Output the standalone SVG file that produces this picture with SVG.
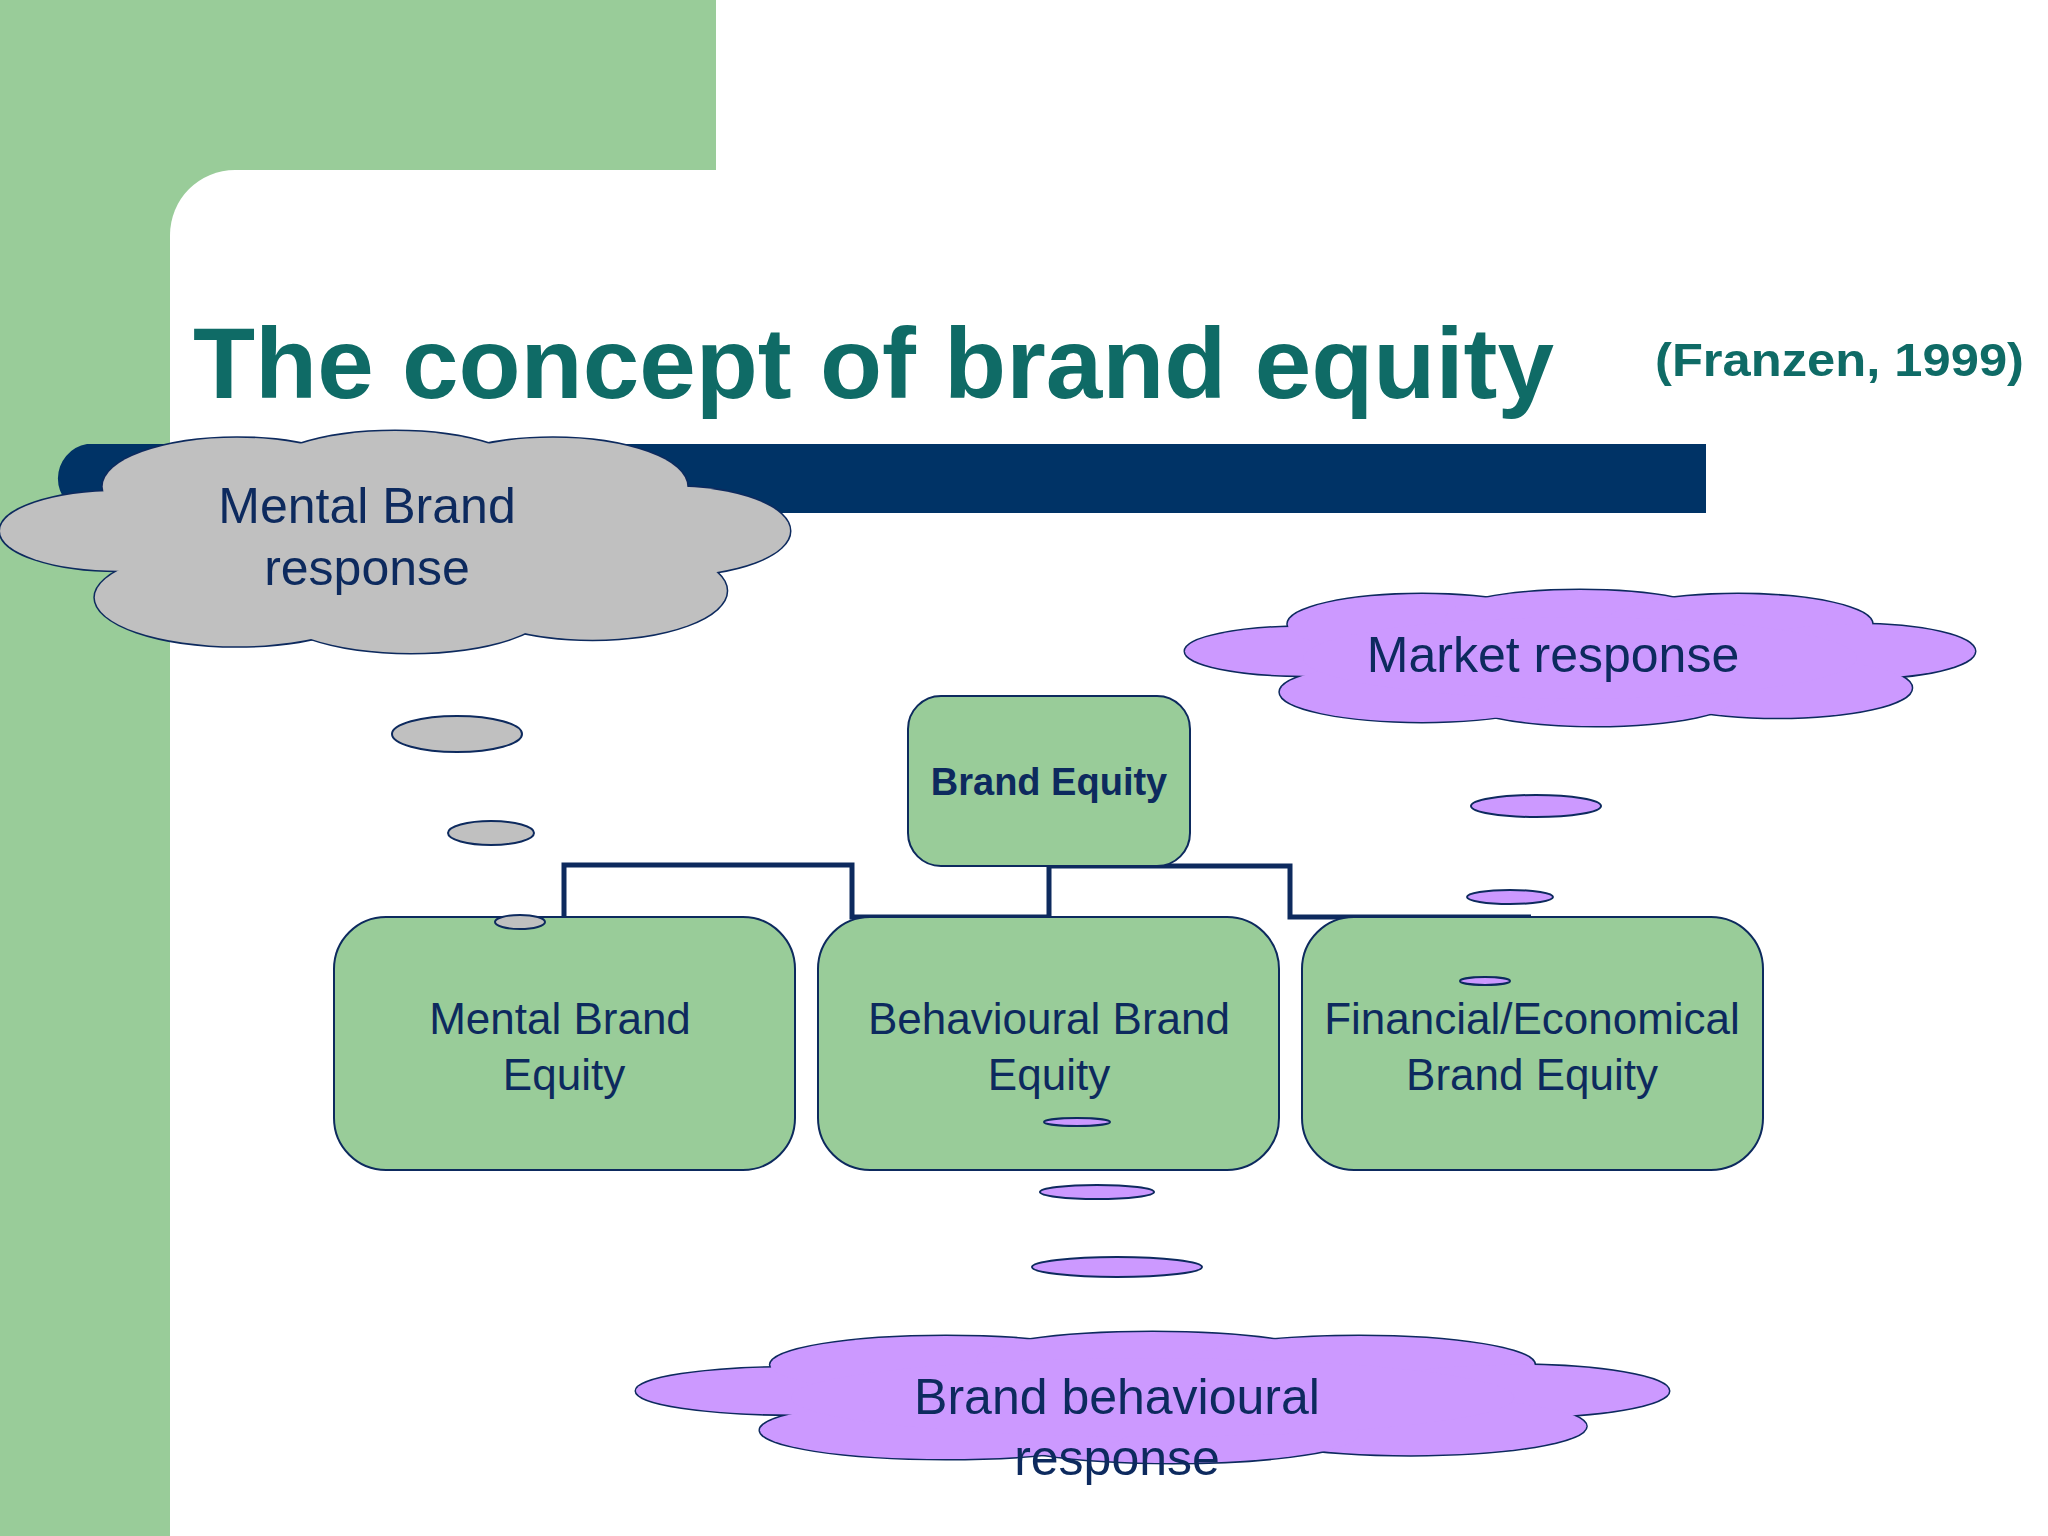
<svg xmlns="http://www.w3.org/2000/svg" xmlns:xlink="http://www.w3.org/1999/xlink" width="2048" height="1536" viewBox="0 0 2048 1536">
<style>
.t{font-family:"Liberation Sans",Arial,sans-serif;fill:#0d2a5e;text-anchor:middle}
.box{fill:#99cc99;stroke:#0d2a5e;stroke-width:2}
.cl ellipse{vector-effect:non-scaling-stroke}
.conn{fill:none;stroke:#0d2a5e;stroke-width:5}
.dot{stroke:#0d2a5e;stroke-width:2}
</style>
<defs>
<g id="cloudShape" class="cl">
<ellipse cx="0.15" cy="0.45" rx="0.15" ry="0.18"/>
<ellipse cx="0.3" cy="0.25" rx="0.17" ry="0.22"/>
<ellipse cx="0.5" cy="0.2" rx="0.17" ry="0.2"/>
<ellipse cx="0.7" cy="0.25" rx="0.17" ry="0.22"/>
<ellipse cx="0.85" cy="0.45" rx="0.15" ry="0.2"/>
<ellipse cx="0.75" cy="0.72" rx="0.17" ry="0.22"/>
<ellipse cx="0.52" cy="0.78" rx="0.18" ry="0.22"/>
<ellipse cx="0.3" cy="0.75" rx="0.18" ry="0.22"/>
<ellipse cx="0.5" cy="0.5" rx="0.35" ry="0.3"/>
</g>
</defs>
<rect width="2048" height="1536" fill="#ffffff"/>
<rect x="0" y="0" width="716" height="240" fill="#99cc99"/>
<rect x="0" y="0" width="170" height="1536" fill="#99cc99"/>
<rect x="170" y="170" width="1900" height="1400" rx="65" fill="#ffffff"/>
<text x="193" y="398" font-family="Liberation Sans,Arial,sans-serif" font-weight="bold" font-size="100" fill="#0f6b66" textLength="1361" lengthAdjust="spacingAndGlyphs">The concept of brand equity</text>
<text x="1655" y="376" font-family="Liberation Sans,Arial,sans-serif" font-weight="bold" font-size="47" fill="#0f6b66" textLength="369" lengthAdjust="spacingAndGlyphs">(Franzen, 1999)</text>
<path d="M87 444 H1706 V513 H87 A35 35 0 0 1 87 444 Z" fill="#003366"/>
<g id="cloud-mental">
<use xlink:href="#cloudShape" transform="translate(0,431) scale(790,222)" fill="none" stroke="#0d2a5e" stroke-width="3"/>
<use xlink:href="#cloudShape" transform="translate(0,431) scale(790,222)" fill="#c0c0c0" stroke="none"/>
<text class="t" x="367" y="523" font-size="50">Mental Brand</text>
<text class="t" x="367" y="585" font-size="50">response</text>
</g>
<g id="cloud-market">
<use xlink:href="#cloudShape" transform="translate(1185,590) scale(790,136)" fill="none" stroke="#0d2a5e" stroke-width="3"/>
<use xlink:href="#cloudShape" transform="translate(1185,590) scale(790,136)" fill="#cc99ff" stroke="none"/>
<text class="t" x="1553" y="672" font-size="50">Market response</text>
</g>
<g id="dots">
<ellipse class="dot" cx="457" cy="734" rx="65" ry="18" fill="#c0c0c0"/>
<ellipse class="dot" cx="491" cy="833" rx="43" ry="12" fill="#c0c0c0"/>
<ellipse class="dot" cx="1536" cy="806" rx="65" ry="11" fill="#cc99ff"/>
<ellipse class="dot" cx="1510" cy="897" rx="43" ry="7" fill="#cc99ff"/>
</g>
<g id="connectors">
<path class="conn" d="M564 917 V865 H852 V917 H1049 V866 M1049 866 H1290 V917 H1531"/>
</g>
<g id="brand-equity">
<rect class="box" x="908" y="696" width="282" height="170" rx="33"/>
<text class="t" x="1049" y="795" font-size="38" font-weight="bold">Brand Equity</text>
</g>
<g id="mental-equity">
<rect class="box" x="334" y="917" width="461" height="253" rx="52"/>
<text class="t" x="560" y="1034" font-size="44">Mental Brand</text>
<text class="t" x="564" y="1090" font-size="44">Equity</text>
</g>
<g id="behavioural-equity">
<rect class="box" x="818" y="917" width="461" height="253" rx="52"/>
<text class="t" x="1049" y="1034" font-size="44">Behavioural Brand</text>
<text class="t" x="1049" y="1090" font-size="44">Equity</text>
</g>
<g id="financial-equity">
<rect class="box" x="1302" y="917" width="461" height="253" rx="52"/>
<text class="t" x="1532" y="1034" font-size="44">Financial/Economical</text>
<text class="t" x="1532" y="1090" font-size="44">Brand Equity</text>
</g>
<g id="dots2">
<ellipse class="dot" cx="520" cy="922" rx="25" ry="7" fill="#c0c0c0"/>
<ellipse class="dot" cx="1485" cy="981" rx="25" ry="4" fill="#cc99ff"/>
<ellipse class="dot" cx="1077" cy="1122" rx="33" ry="4" fill="#cc99ff"/>
<ellipse class="dot" cx="1097" cy="1192" rx="57" ry="7" fill="#cc99ff"/>
<ellipse class="dot" cx="1117" cy="1267" rx="85" ry="10" fill="#cc99ff"/>
</g>
<g id="cloud-behavioural">
<use xlink:href="#cloudShape" transform="translate(636,1332) scale(1033,131)" fill="none" stroke="#0d2a5e" stroke-width="3"/>
<use xlink:href="#cloudShape" transform="translate(636,1332) scale(1033,131)" fill="#cc99ff" stroke="none"/>
<text class="t" x="1117" y="1414" font-size="50">Brand behavioural</text>
<text class="t" x="1117" y="1475" font-size="50">response</text>
</g>
</svg>
